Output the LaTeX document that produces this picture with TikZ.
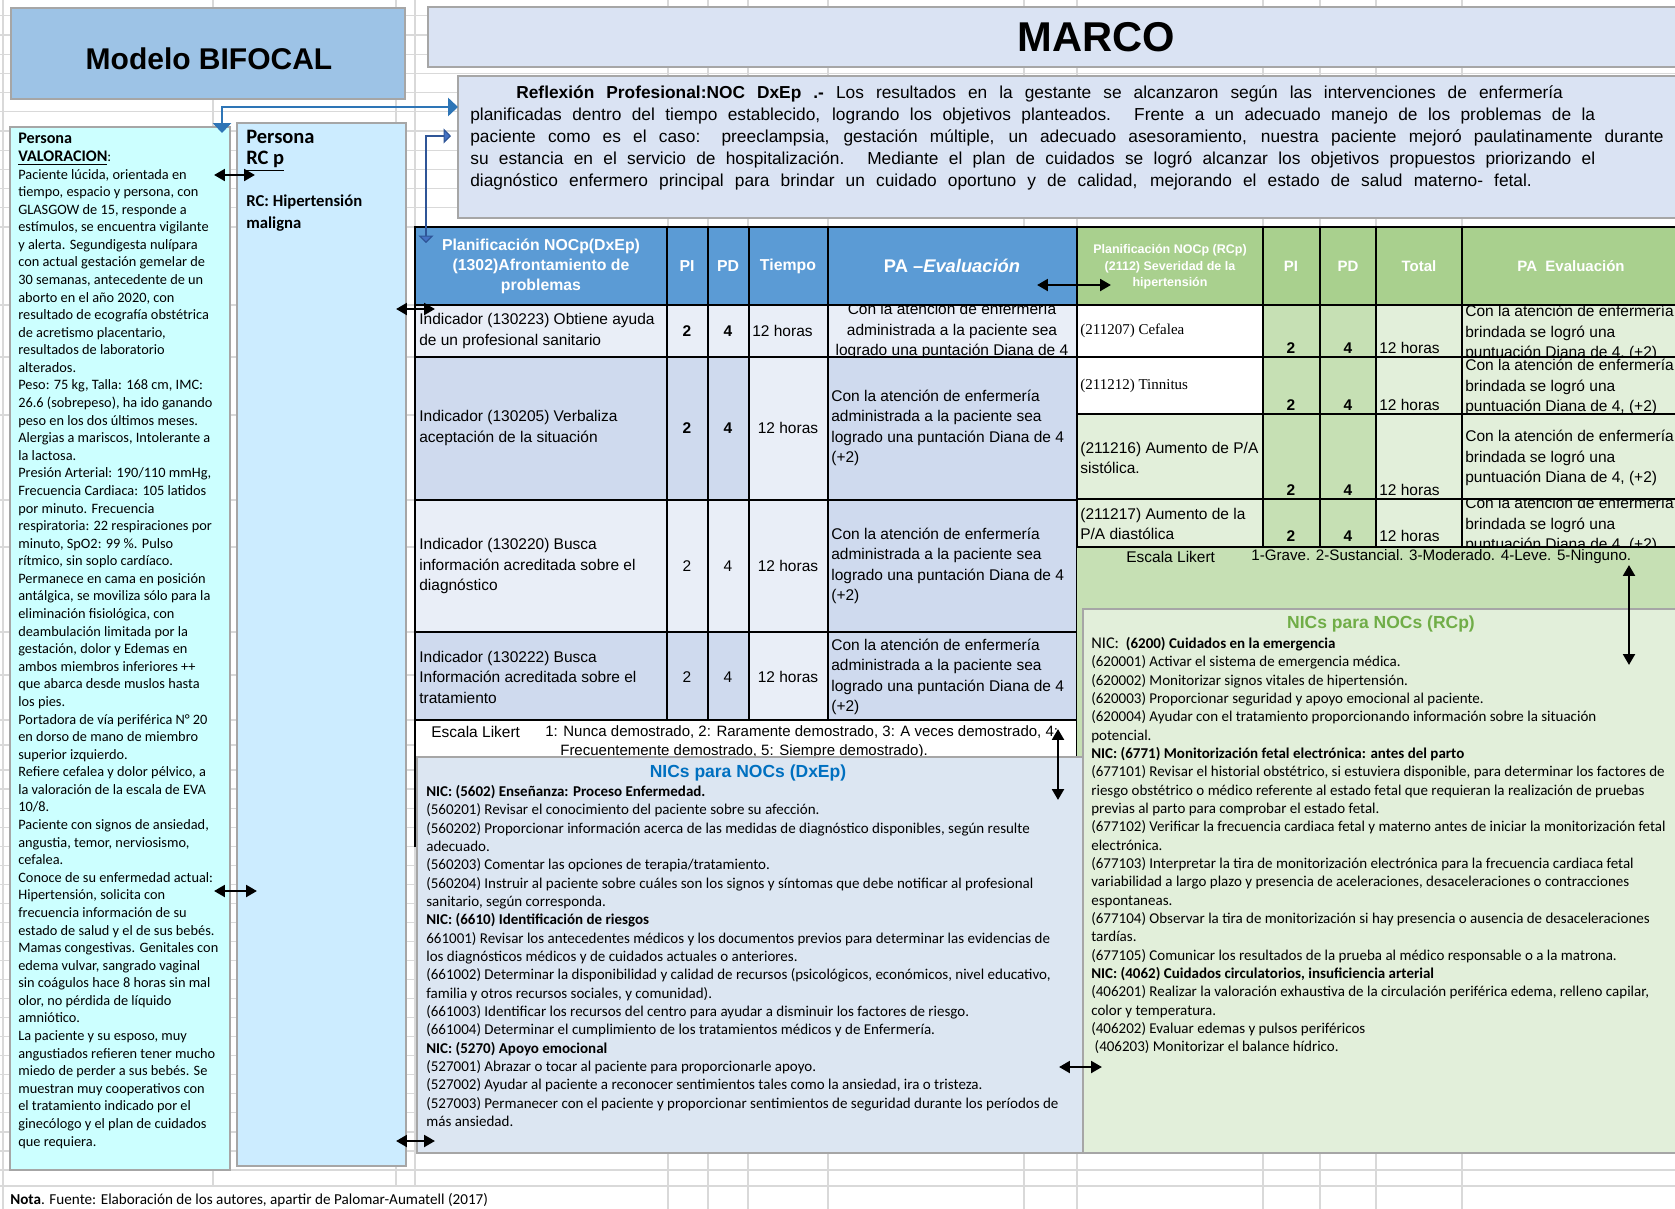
\documentclass[tikz,border=0pt]{standalone}
\usepackage{fontspec}
\setmainfont{Liberation Sans}
\newfontfamily\calfont{Carlito}
\newfontfamily\tnrfont{Liberation Serif}
\usetikzlibrary{arrows.meta}
\definecolor{gridc}{HTML}{D9D9D9}
\definecolor{bordc}{HTML}{A6A6A6}
\definecolor{bifocal}{HTML}{9DC3E6}
\definecolor{marco}{HTML}{DAE3F3}
\definecolor{valor}{HTML}{CCFFFF}
\definecolor{rcpc}{HTML}{CCECFF}
\definecolor{hdrblue}{HTML}{5B9BD5}
\definecolor{lrow}{HTML}{E9EEF7}
\definecolor{drow}{HTML}{CFDAEE}
\definecolor{hdrgreen}{HTML}{A9D08E}
\definecolor{grn}{HTML}{C6E0B4}
\definecolor{lgrn}{HTML}{E2EFDA}
\definecolor{nicblue}{HTML}{DCE6F2}
\definecolor{tblue}{HTML}{0070C0}
\definecolor{tgreen}{HTML}{70AD47}
\definecolor{conA}{HTML}{2E75B6}
\definecolor{conB}{HTML}{2F5597}
\definecolor{conBf}{HTML}{4472C4}
\tikzset{
  box/.style={draw=bordc, line width=0.9pt},
  tbl/.style={draw=black, line width=1.3pt},
  gridline/.style={draw=gridc, line width=0.7pt},
  biarrow/.style={line width=1.6pt, {Triangle[length=6.5pt,width=7pt]}-{Triangle[length=6.5pt,width=7pt]}},
  connA/.style={draw=conA, line width=1.2pt, {Triangle[length=6pt,width=11pt]}-{Triangle[length=6pt,width=11pt]}},
  connB/.style={draw=conB, line width=0.7pt, {Triangle[length=4.5pt,width=9pt,fill=conBf]}-{Triangle[length=4.5pt,width=9pt,fill=conBf]}},
  txt/.style={inner sep=0pt, align=left},
  small/.style={txt, font=\calfont\fontsize{8.6}{10.55}\selectfont},
  nic/.style={txt, font=\calfont\fontsize{9}{11}\selectfont},
  cell/.style={txt, font=\fontsize{9.3}{12.3}\selectfont},
  cellb/.style={txt, font=\bfseries\fontsize{9.3}{12.3}\selectfont},
  hdr/.style={txt, align=center, text=white, font=\bfseries\fontsize{9.5}{12}\selectfont},
  refl/.style={txt, anchor=base west, font=\fontsize{10.4}{13}\selectfont},
}
\begin{document}
\begin{tikzpicture}[x=0.6pt,y=-0.6pt]
\useasboundingbox (0,0) rectangle (1675,1209);
\fill[white] (0,0) rectangle (1675,1209);
% spreadsheet grid
\foreach \yy in {15.8,35,54.2,73.4,92.6,111.8,131,150.2,169.4,188.6,207.8,227,305,357,415,500,547,632,675,720,745,770,789.05,...,1171,1186}
  \draw[gridline] (0,\yy) -- (1675,\yy);
\foreach \xx in {3,213,396,415,668,708,748,828,1024,1077,1263,1320,1376,1462}
  \draw[gridline] (\xx,0) -- (\xx,1186);
\foreach \xx in {3,668,708,748,828,1024,1077,1263,1320,1376,1462}
  \draw[gridline] (\xx,1186) -- (\xx,1209);

% title boxes
\draw[box, fill=bifocal] (11,8) rectangle (405,99);
\node[txt, font=\bfseries\fontsize{18}{20}\selectfont] (bifocal) at (209,59) {Modelo BIFOCAL};
\draw[box, fill=marco] (428,7) rectangle (1685,67);
\node[txt, font=\bfseries\fontsize{25}{28}\selectfont] (marco) at (1096,37) {MARCO};
\draw[box, fill=marco] (458,76) rectangle (1685,218);
\node[refl] (rl1) at (516,98.5) {\hbox to 628pt{\textbf{Reflexión Profesional:NOC DxEp .-} Los resultados en la gestante se alcanzaron según las intervenciones de enfermería}};
\node[refl] (rl2) at (470,120.5) {\hbox to 675pt{planificadas dentro del tiempo establecido, logrando los objetivos planteados. Frente a un adecuado manejo de los problemas de la}};
\node[refl] (rl3) at (470,142.5) {\hbox to 716pt{paciente como es el caso: preeclampsia, gestación múltiple, un adecuado asesoramiento, nuestra paciente mejoró paulatinamente durante}};
\node[refl] (rl4) at (470,164) {\hbox to 675pt{su estancia en el servicio de hospitalización. Mediante el plan de cuidados se logró alcanzar los objetivos propuestos priorizando el}};
\node[refl] (rl5) at (470,186.5) {\hbox to 637pt{diagnóstico enfermero principal para brindar un cuidado oportuno y de calidad, mejorando el estado de salud materno- fetal.}};

% Persona VALORACION
\draw[box, fill=valor] (10,127) rectangle (230,1170);
\node[small, anchor=north west] (valoracion) at (18,133) {{\fontsize{9.7}{10.55}\selectfont\bfseries Persona}\\
{\fontsize{9.7}{10.55}\selectfont\bfseries\underline{VALORACION}}:\\
Paciente lúcida, orientada en\\
tiempo, espacio y persona, con\\
GLASGOW de 15, responde a\\
estímulos, se encuentra vigilante\\
y alerta. Segundigesta nulípara\\
con actual gestación gemelar de\\
30 semanas, antecedente de un\\
aborto en el año 2020, con\\
resultado de ecografía obstétrica\\
de acretismo placentario,\\
resultados de laboratorio\\
alterados.\\
Peso: 75 kg, Talla: 168 cm, IMC:\\
26.6 (sobrepeso), ha ido ganando\\
peso en los dos últimos meses.\\
Alergias a mariscos, Intolerante a\\
la lactosa.\\
Presión Arterial: 190/110 mmHg,\\
Frecuencia Cardiaca: 105 latidos\\
por minuto. Frecuencia\\
respiratoria: 22 respiraciones por\\
minuto, SpO2: 99 \%. Pulso\\
rítmico, sin soplo cardíaco.\\
Permanece en cama en posición\\
antálgica, se moviliza sólo para la\\
eliminación fisiológica, con\\
deambulación limitada por la\\
gestación, dolor y Edemas en\\
ambos miembros inferiores ++\\
que abarca desde muslos hasta\\
los pies.\\
Portadora de vía periférica N° 20\\
en dorso de mano de miembro\\
superior izquierdo.\\
Refiere cefalea y dolor pélvico, a\\
la valoración de la escala de EVA\\
10/8.\\
Paciente con signos de ansiedad,\\
angustia, temor, nerviosismo,\\
cefalea.\\
Conoce de su enfermedad actual:\\
Hipertensión, solicita con\\
frecuencia información de su\\
estado de salud y el de sus bebés.\\
Mamas congestivas. Genitales con\\
edema vulvar, sangrado vaginal\\
sin coágulos hace 8 horas sin mal\\
olor, no pérdida de líquido\\
amniótico.\\
La paciente y su esposo, muy\\
angustiados refieren tener mucho\\
miedo de perder a sus bebés. Se\\
muestran muy cooperativos con\\
el tratamiento indicado por el\\
ginecólogo y el plan de cuidados\\
que requiera.};

% Persona RC p
\draw[box, fill=rcpc] (237,123) rectangle (406,1166);
\node[txt, anchor=north west, font=\calfont\bfseries\fontsize{12.3}{12.6}\selectfont] (rcp) at (246,130) {Persona\\\underline{RC p}};
\node[txt, anchor=north west, font=\calfont\bfseries\fontsize{10}{13.2}\selectfont] (rcdx) at (246,194) {RC: Hipertensión\\maligna};

% DxEp table
\fill[hdrblue] (415,227) rectangle (1077,305);
\fill[lrow] (415,305) rectangle (1077,357);
\fill[drow] (415,357) rectangle (1077,500);
\fill[lrow] (749,357) rectangle (828,500);
\fill[lrow] (415,500) rectangle (828,632);
\fill[drow] (828,500) rectangle (1077,632);
\fill[drow] (415,632) rectangle (1077,720);
\fill[lrow] (749,632) rectangle (828,720);
\fill[white] (415,720) rectangle (1077,760);
\draw[tbl] (415,227) rectangle (1077,720);
\foreach \yy in {305,357,500,632} \draw[tbl] (415,\yy) -- (1077,\yy);
\foreach \xx in {667,708,749,828} \draw[tbl] (\xx,227) -- (\xx,720);
\draw[tbl] (415,720) -- (415,847);
\draw[tbl] (1077,720) -- (1077,760);

\node[hdr] (h1) at (541,266) {Planificación NOCp(DxEp)\\(1302)Afrontamiento de\\problemas};
\node[hdr] (h2) at (687,266) {PI};
\node[hdr] (h3) at (728,266) {PD};
\node[hdr] (h4) at (788,266) {Tiempo};
\node[hdr, font=\bfseries\fontsize{11}{13}\selectfont] (h5) at (952,266) {PA –\textit{Evaluación}};

\node[cell, anchor=west] (r1a) at (419,331) {Indicador (130223) Obtiene ayuda\\de un profesional sanitario};
\node[cellb] (r1b) at (687,331) {2};
\node[cellb] (r1c) at (728,331) {4};
\node[cell, anchor=west] (r1d) at (752,331) {12 horas};
\begin{scope}
\clip (828,305) rectangle (1077,357);
\node[cell, align=center] (r1e) at (952,331) {Con la atención de enfermería\\administrada a la paciente sea\\logrado una puntación Diana de 4};
\end{scope}

\node[cell, anchor=west] (r2a) at (419,428) {Indicador (130205) Verbaliza\\aceptación de la situación};
\node[cellb] (r2b) at (687,428) {2};
\node[cellb] (r2c) at (728,428) {4};
\node[cell] (r2d) at (788,428) {12 horas};
\node[cell, anchor=west] (r2e) at (831,428) {Con la atención de enfermería\\administrada a la paciente sea\\logrado una puntación Diana de 4\\(+2)};

\node[cell, anchor=west] (r3a) at (419,566) {Indicador (130220) Busca\\información acreditada sobre el\\diagnóstico};
\node[cell] (r3b) at (687,566) {2};
\node[cell] (r3c) at (728,566) {4};
\node[cell] (r3d) at (788,566) {12 horas};
\node[cell, anchor=west] (r3e) at (831,566) {Con la atención de enfermería\\administrada a la paciente sea\\logrado una puntación Diana de 4\\(+2)};

\node[cell, anchor=west] (r4a) at (419,677) {Indicador (130222) Busca\\Información acreditada sobre el\\tratamiento};
\node[cell] (r4b) at (687,677) {2};
\node[cell] (r4c) at (728,677) {4};
\node[cell] (r4d) at (788,677) {12 horas};
\node[cell, anchor=west] (r4e) at (831,677) {Con la atención de enfermería\\administrada a la paciente sea\\logrado una puntación Diana de 4\\(+2)};

\node[cell, anchor=west] (lk1) at (431,732) {Escala Likert};
\node[cell, anchor=west, font=\fontsize{9}{12}\selectfont] (lk2) at (545,732) {1: Nunca demostrado, 2: Raramente demostrado, 3: A veces demostrado, 4:};
\node[cell, anchor=west, font=\fontsize{9}{12}\selectfont] (lk3) at (560,752) {Frecuentemente demostrado, 5: Siempre demostrado).};

% RCp table
\fill[grn] (1077,547) rectangle (1685,1153);
\fill[hdrgreen] (1077,227) rectangle (1685,305);
\fill[white] (1077,305) rectangle (1263,414);
\fill[lgrn] (1077,414) rectangle (1263,547);
\fill[grn] (1263,305) rectangle (1376,547);
\fill[lgrn] (1376,305) rectangle (1685,547);
\draw[tbl] (1077,227) rectangle (1685,547);
\foreach \yy in {305,357,414,499} \draw[tbl] (1077,\yy) -- (1685,\yy);
\foreach \xx in {1263,1320,1376,1462} \draw[tbl] (\xx,227) -- (\xx,547);

\node[hdr, font=\bfseries\fontsize{7.5}{9.8}\selectfont] (g1) at (1170,267) {Planificación NOCp (RCp)\\(2112) Severidad de la\\hipertensión};
\node[hdr, font=\bfseries\fontsize{9}{11}\selectfont] (g2) at (1291,266) {PI};
\node[hdr, font=\bfseries\fontsize{9}{11}\selectfont] (g3) at (1348,266) {PD};
\node[hdr, font=\bfseries\fontsize{9}{11}\selectfont] (g4) at (1419,266) {Total};
\node[hdr, font=\bfseries\fontsize{9}{11}\selectfont] (g5) at (1571,266) {PA\ \ Evaluación};

\node[txt, anchor=west, font=\tnrfont\fontsize{9}{11}\selectfont] (ga1) at (1080,331) {(211207) Cefalea};
\node[txt, anchor=west, font=\tnrfont\fontsize{9}{11}\selectfont] (ga2) at (1080,386) {(211212) Tinnitus};
\node[cell, anchor=west] (ga3) at (1080,458) {(211216) Aumento de P/A\\sistólica.};
\node[cell, anchor=west] (ga4) at (1080,524) {(211217) Aumento de la\\P/A diastólica};
\foreach \yy/\n in {348/1,405/2,490/3,536/4} {
  \node[cellb] (gpi\n) at (1291,\yy) {2};
  \node[cellb] (gpd\n) at (1348,\yy) {4};
  \node[cell, anchor=west] (gt\n) at (1379,\yy) {12 horas};
}
\foreach \ya/\yb/\yc/\n in {305/357/333/1,357/414/387/2,414/499/458/3,499/547/525/4} {
  \begin{scope}
  \clip (1462,\ya) rectangle (1685,\yb);
  \node[cell, anchor=west] (gpa\n) at (1465,\yc) {Con la atención de enfermería\\brindada se logró una\\puntuación Diana de 4, (+2)};
  \end{scope}
}
\node[cell, anchor=west] (gl1) at (1126,557) {Escala Likert};
\node[cell, anchor=west, font=\fontsize{9.1}{12}\selectfont] (gl2) at (1251,557) {1-Grave. 2-Sustancial. 3-Moderado. 4-Leve. 5-Ninguno.};

% NIC boxes
\draw[box, fill=nicblue] (417,757) rectangle (1083,1153);
\draw[box, fill=lgrn] (1083,609) rectangle (1685,1153);
\node[txt, font=\bfseries\fontsize{10.5}{12}\selectfont, text=tblue] (t1) at (748,773) {NICs para NOCs (DxEp)};
\node[txt, font=\bfseries\fontsize{10.5}{12}\selectfont, text=tgreen] (t2) at (1381,624) {NICs para NOCs (RCp)};

\node[nic, anchor=north west] (nicdx) at (426,785) {\textbf{NIC: (5602) Enseñanza: Proceso Enfermedad.}\\
(560201) Revisar el conocimiento del paciente sobre su afección.\\
(560202) Proporcionar información acerca de las medidas de diagnóstico disponibles, según resulte\\
adecuado.\\
(560203) Comentar las opciones de terapia/tratamiento.\\
(560204) Instruir al paciente sobre cuáles son los signos y síntomas que debe notificar al profesional\\
sanitario, según corresponda.\\
\textbf{NIC: (6610) Identificación de riesgos}\\
661001) Revisar los antecedentes médicos y los documentos previos para determinar las evidencias de\\
los diagnósticos médicos y de cuidados actuales o anteriores.\\
(661002) Determinar la disponibilidad y calidad de recursos (psicológicos, económicos, nivel educativo,\\
familia y otros recursos sociales, y comunidad).\\
(661003) Identificar los recursos del centro para ayudar a disminuir los factores de riesgo.\\
(661004) Determinar el cumplimiento de los tratamientos médicos y de Enfermería.\\
\textbf{NIC: (5270) Apoyo emocional}\\
(527001) Abrazar o tocar al paciente para proporcionarle apoyo.\\
(527002) Ayudar al paciente a reconocer sentimientos tales como la ansiedad, ira o tristeza.\\
(527003) Permanecer con el paciente y proporcionar sentimientos de seguridad durante los períodos de\\
más ansiedad.};

\node[nic, anchor=north west] (nicrc) at (1091,637) {{\fontsize{9.8}{11}\selectfont NIC:}\ \ \textbf{(6200) Cuidados en la emergencia}\\
(620001) Activar el sistema de emergencia médica.\\
(620002) Monitorizar signos vitales de hipertensión.\\
(620003) Proporcionar seguridad y apoyo emocional al paciente.\\
(620004) Ayudar con el tratamiento proporcionando información sobre la situación\\
potencial.\\
\textbf{NIC: (6771) Monitorización fetal electrónica: antes del parto}\\
(677101) Revisar el historial obstétrico, si estuviera disponible, para determinar los factores de\\
riesgo obstétrico o médico referente al estado fetal que requieran la realización de pruebas\\
previas al parto para comprobar el estado fetal.\\
(677102) Verificar la frecuencia cardiaca fetal y materno antes de iniciar la monitorización fetal\\
electrónica.\\
(677103) Interpretar la tira de monitorización electrónica para la frecuencia cardiaca fetal\\
variabilidad a largo plazo y presencia de aceleraciones, desaceleraciones o contracciones\\
espontaneas.\\
(677104) Observar la tira de monitorización si hay presencia o ausencia de desaceleraciones\\
tardías.\\
(677105) Comunicar los resultados de la prueba al médico responsable o a la matrona.\\
\textbf{NIC: (4062) Cuidados circulatorios, insuficiencia arterial}\\
(406201) Realizar la valoración exhaustiva de la circulación periférica edema, relleno capilar,\\
color y temperatura.\\
(406202) Evaluar edemas y pulsos periféricos\\
\ (406203) Monitorizar el balance hídrico.};

% Nota
\node[txt, anchor=west, font=\calfont\fontsize{9.1}{10}\selectfont] (nota) at (10,1200) {\textbf{Nota}. Fuente: Elaboración de los autores, apartir de Palomar-Aumatell (2017)};

% connectors
\coordinate (a1) at (222,133);
\coordinate (a2) at (458,107);
\coordinate (b1) at (426,243);
\coordinate (b2) at (451,136);
\draw[connA] (a1) |- (a2);
\draw[connB] (b1) |- (b2);
\coordinate (k1a) at (214,175); \coordinate (k1b) at (255,175);
\coordinate (k2a) at (214,891); \coordinate (k2b) at (257,891);
\coordinate (k3a) at (396,309); \coordinate (k3b) at (435,309);
\coordinate (k4a) at (396,1141); \coordinate (k4b) at (435,1141);
\coordinate (k5a) at (1037,285); \coordinate (k5b) at (1111,285);
\coordinate (k6a) at (1058,729); \coordinate (k6b) at (1058,800);
\coordinate (k7a) at (1629,565); \coordinate (k7b) at (1629,665);
\coordinate (k8a) at (1059,1067); \coordinate (k8b) at (1102,1067);
\foreach \k in {1,...,8} \draw[biarrow] (k\k a) -- (k\k b);
\end{tikzpicture}
\end{document}
